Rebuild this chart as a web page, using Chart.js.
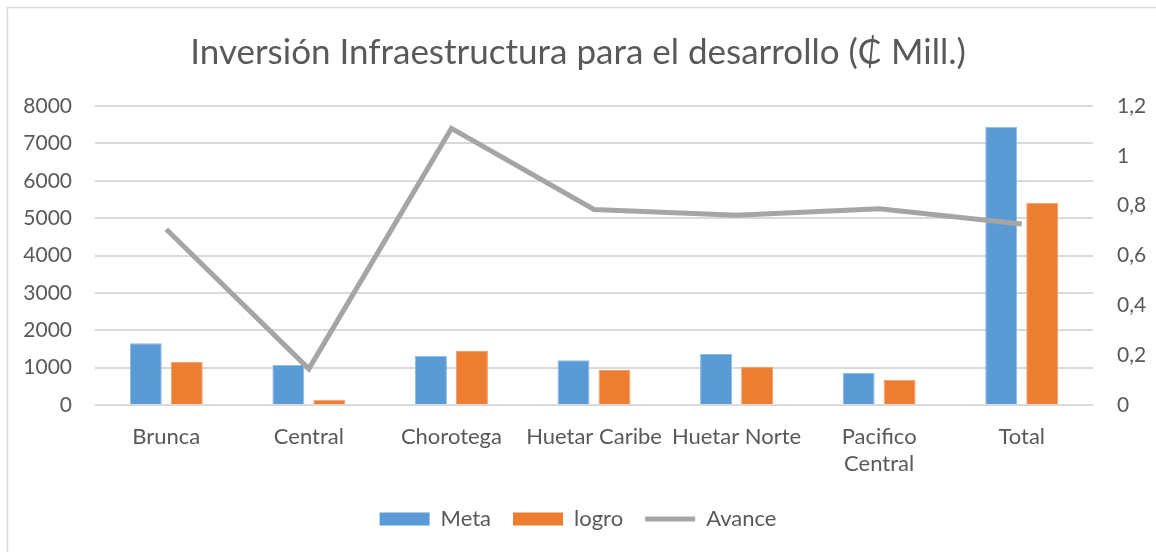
<!DOCTYPE html>
<html>
<head>
<meta charset="utf-8">
<script src="https://cdn.jsdelivr.net/npm/chart.js@4"></script>
<style>
  body { margin: 0; background: #fff; }
  #wrap { width: 1156px; height: 552px; position: relative; }
</style>
</head>
<body>
<div id="wrap"><canvas id="chart"></canvas></div>
<script>
// categories and series
var regiones = ["Brunca", "Central", "Chorotega", "Huetar Caribe", "Huetar Norte", ["Pacifico", "Central"], "Total"];
var meta = [1650, 1070, 1310, 1200, 1365, 855, 7445];
var logro = [1158, 142, 1445, 936, 1025, 668, 5410];
var avance = [0.705, 0.145, 1.11, 0.785, 0.762, 0.788, 0.726];

var textColor = "#595959";
var gridColor = "#d9d9d9";
var font = "Lato, 'Open Sans', sans-serif";

// light frame around the chart
var framePlugin = {
  id: "frame",
  beforeDraw: function (chart) {
    var ctx = chart.ctx;
    ctx.save();
    ctx.strokeStyle = gridColor;
    ctx.lineWidth = 1.5;
    ctx.strokeRect(7.5, 7.5, chart.width + 20, chart.height + 20);
    ctx.restore();
  },
};

var ctx = document.getElementById("chart").getContext("2d");
var chart = new Chart(ctx, {
  type: "bar",
  data: {
    labels: regiones,
    datasets: [
      {
        type: "line",
        label: "Avance",
        data: avance,
        yAxisID: "y1",
        borderColor: "#a5a5a5",
        backgroundColor: "#a5a5a5",
        borderWidth: 5,
        pointRadius: 0,
        tension: 0,
        order: 0,
      },
      {
        label: "Meta",
        data: meta,
        yAxisID: "y",
        backgroundColor: "#5b9bd5",
        borderColor: "#8dbbe5",
        borderWidth: 1,
        order: 1,
      },
      {
        label: "logro",
        data: logro,
        yAxisID: "y",
        backgroundColor: "#ed7d31",
        borderColor: "#f3a26e",
        borderWidth: 1,
        order: 1,
      },
    ],
  },
  options: {
    responsive: true,
    maintainAspectRatio: false,
    animation: false,
    categoryPercentage: 0.575,
    barPercentage: 0.78,
    layout: { padding: { left: 0, right: 0, top: 0, bottom: 12 } },
    plugins: {
      title: {
        display: true,
        text: "Inversión Infraestructura para el desarrollo (₵ Mill.)",
        color: textColor,
        font: { family: font, size: 35, weight: "normal" },
        padding: { top: 31.5, bottom: 32.5 },
      },
      legend: {
        position: "bottom",
        labels: {
          color: textColor,
          font: { family: font, size: 22 },
          usePointStyle: true,
          pointStyleWidth: 50,
          boxHeight: 13,
          padding: 22,
          sort: function (a, b) {
            // bars first, then the line
            var order = { Meta: 0, logro: 1, Avance: 2 };
            return order[a.text] - order[b.text];
          },
          generateLabels: function (chart) {
            return chart.data.datasets.map(function (ds, i) {
              var isLine = ds.type === "line";
              return {
                text: ds.label,
                fillStyle: ds.backgroundColor,
                strokeStyle: isLine ? ds.borderColor : ds.backgroundColor,
                lineWidth: isLine ? 5 : 0,
                pointStyle: isLine ? "line" : "rect",
                fontColor: textColor,
                hidden: false,
                datasetIndex: i,
              };
            });
          },
        },
      },
      tooltip: { enabled: false },
    },
    scales: {
      x: {
        grid: { display: false, drawTicks: false },
        border: { display: false },
        ticks: {
          color: textColor,
          font: { family: font, size: 22 },
          maxRotation: 0,
          autoSkip: false,
          padding: 19,
        },
        afterFit: function (scale) {
          scale.height = 81;
        },
      },
      y: {
        position: "left",
        min: 0,
        max: 8000,
        grid: { color: gridColor, lineWidth: 2, drawTicks: false },
        border: { display: false },
        ticks: {
          stepSize: 1000,
          color: textColor,
          font: { family: font, size: 21 },
          padding: 23,
          callback: function (v) {
            return String(v);
          },
        },
        afterFit: function (scale) {
          scale.width = 95;
        },
      },
      y1: {
        position: "right",
        min: 0,
        max: 1.2,
        grid: { display: false, drawTicks: false },
        border: { display: false },
        ticks: {
          stepSize: 0.2,
          color: textColor,
          font: { family: font, size: 21 },
          padding: 24,
          callback: function (v) {
            return String(Math.round(v * 10) / 10).replace(".", ",");
          },
        },
        afterFit: function (scale) {
          scale.width = 63;
        },
      },
    },
  },
  plugins: [framePlugin],
});
</script>
</body>
</html>
